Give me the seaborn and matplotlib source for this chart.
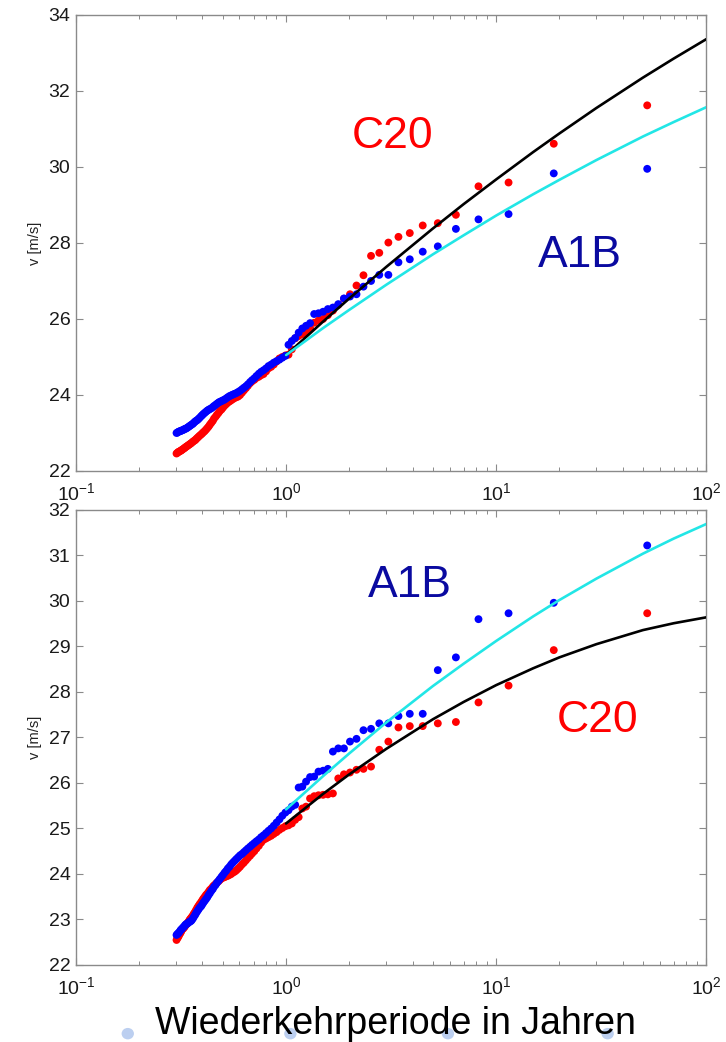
import matplotlib
matplotlib.use("Agg")
import matplotlib.pyplot as plt
import seaborn as sns
import pandas as pd
from matplotlib.ticker import LogLocator, FixedLocator, NullFormatter
from matplotlib.patches import Ellipse

# ---------------- data ----------------
return_period = [52.39, 18.81, 11.46, 8.242, 6.434, 5.277, 4.473, 3.881, 3.428, 3.069,
                 2.778, 2.538, 2.336, 2.164, 2.015, 1.886, 1.772, 1.671, 1.581, 1.500,
                 1.427, 1.361, 1.301, 1.245, 1.195, 1.148, 1.105, 1.065, 1.027, 0.993,
                 0.960, 0.930, 0.901, 0.874, 0.849, 0.825, 0.803, 0.781, 0.761, 0.742,
                 0.723, 0.706, 0.689, 0.674, 0.658, 0.644, 0.630, 0.617, 0.604, 0.592,
                 0.580, 0.569, 0.558, 0.548, 0.538, 0.528, 0.519, 0.510, 0.501, 0.493,
                 0.484, 0.477, 0.469, 0.462, 0.454, 0.448, 0.441, 0.434, 0.428, 0.422,
                 0.416, 0.410, 0.404, 0.399, 0.394, 0.388, 0.383, 0.378, 0.373, 0.369,
                 0.364, 0.360, 0.355, 0.351, 0.347, 0.343, 0.339, 0.335, 0.331, 0.328,
                 0.324, 0.320, 0.317, 0.314, 0.310, 0.307, 0.304, 0.301]

c20_top = [31.62, 30.61, 29.59, 29.49, 28.74, 28.52, 28.46, 28.26, 28.16, 28.01,
           27.74, 27.66, 27.15, 26.88, 26.65, 26.53, 26.37, 26.22, 26.10, 26.00,
           25.96, 25.90, 25.76, 25.66, 25.60, 25.55, 25.49, 25.20, 25.06, 25.04,
           25.00, 24.96, 24.88, 24.80, 24.74, 24.70, 24.62, 24.55, 24.52, 24.48,
           24.45, 24.40, 24.36, 24.31, 24.24, 24.18, 24.12, 24.06, 24.00, 23.96,
           23.94, 23.92, 23.89, 23.86, 23.83, 23.80, 23.76, 23.72, 23.67, 23.62,
           23.58, 23.53, 23.48, 23.43, 23.38, 23.32, 23.27, 23.22, 23.17, 23.13,
           23.09, 23.05, 23.02, 22.99, 22.96, 22.93, 22.90, 22.87, 22.84, 22.81,
           22.79, 22.77, 22.74, 22.72, 22.70, 22.68, 22.66, 22.64, 22.62, 22.60,
           22.58, 22.56, 22.54, 22.53, 22.51, 22.50, 22.48, 22.46]

a1b_top = [29.95, 29.83, 28.76, 28.62, 28.37, 27.91, 27.77, 27.57, 27.49, 27.16,
           27.16, 27.00, 26.85, 26.65, 26.59, 26.54, 26.39, 26.30, 26.26, 26.19,
           26.15, 26.13, 25.89, 25.82, 25.75, 25.64, 25.50, 25.42, 25.32, 25.03,
           24.98, 24.93, 24.89, 24.85, 24.80, 24.76, 24.70, 24.65, 24.61, 24.56,
           24.50, 24.44, 24.39, 24.34, 24.28, 24.23, 24.19, 24.15, 24.11, 24.08,
           24.05, 24.03, 24.01, 23.99, 23.97, 23.94, 23.91, 23.88, 23.86, 23.84,
           23.82, 23.80, 23.77, 23.74, 23.71, 23.68, 23.65, 23.63, 23.61, 23.59,
           23.56, 23.53, 23.50, 23.47, 23.44, 23.40, 23.37, 23.34, 23.32, 23.30,
           23.27, 23.24, 23.22, 23.20, 23.18, 23.16, 23.14, 23.12, 23.11, 23.10,
           23.08, 23.07, 23.06, 23.05, 23.04, 23.03, 23.01, 23.00]

c20_bot = [29.73, 28.92, 28.14, 27.77, 27.34, 27.31, 27.25, 27.25, 27.22, 26.91,
           26.73, 26.36, 26.31, 26.29, 26.23, 26.19, 26.10, 25.77, 25.75, 25.74,
           25.73, 25.71, 25.66, 25.48, 25.44, 25.25, 25.19, 25.11, 25.07, 25.05,
           25.01, 24.97, 24.92, 24.88, 24.84, 24.81, 24.78, 24.75, 24.69, 24.62,
           24.56, 24.50, 24.45, 24.40, 24.35, 24.30, 24.25, 24.21, 24.16, 24.12,
           24.08, 24.05, 24.03, 24.00, 23.98, 23.96, 23.95, 23.93, 23.92, 23.90,
           23.87, 23.84, 23.81, 23.78, 23.75, 23.72, 23.68, 23.65, 23.61, 23.57,
           23.54, 23.50, 23.46, 23.42, 23.38, 23.34, 23.30, 23.26, 23.21, 23.17,
           23.13, 23.09, 23.05, 23.02, 22.99, 22.95, 22.92, 22.89, 22.86, 22.83,
           22.80, 22.78, 22.74, 22.70, 22.66, 22.62, 22.59, 22.55]

a1b_bot = [31.22, 29.96, 29.73, 29.60, 28.76, 28.48, 27.52, 27.52, 27.47, 27.31,
           27.31, 27.19, 27.16, 26.97, 26.91, 26.76, 26.76, 26.69, 26.31, 26.27,
           26.25, 26.14, 26.13, 26.03, 25.92, 25.90, 25.52, 25.48, 25.40, 25.35,
           25.28, 25.20, 25.13, 25.06, 25.00, 24.95, 24.90, 24.85, 24.81, 24.76,
           24.72, 24.68, 24.64, 24.60, 24.56, 24.52, 24.48, 24.44, 24.41, 24.37,
           24.33, 24.29, 24.25, 24.21, 24.16, 24.12, 24.07, 24.03, 23.98, 23.94,
           23.89, 23.85, 23.81, 23.76, 23.72, 23.67, 23.63, 23.58, 23.54, 23.49,
           23.45, 23.41, 23.37, 23.33, 23.29, 23.26, 23.22, 23.18, 23.14, 23.10,
           23.06, 23.02, 22.98, 22.96, 22.95, 22.93, 22.91, 22.90, 22.88, 22.85,
           22.83, 22.80, 22.78, 22.76, 22.72, 22.70, 22.68, 22.66]

fit_period = [1, 1.5, 2, 3, 5, 7, 10, 15, 20, 30, 50, 70, 100]
c20_fit_top = [25.05, 25.93, 26.54, 27.37, 28.38, 29.02, 29.67, 30.39, 30.88, 31.55, 32.35, 32.85, 33.36]
a1b_fit_top = [25.05, 25.76, 26.24, 26.90, 27.70, 28.20, 28.72, 29.28, 29.66, 30.18, 30.80, 31.18, 31.57]
c20_fit_bot = [25.11, 25.76, 26.19, 26.75, 27.40, 27.78, 28.15, 28.52, 28.76, 29.05, 29.36, 29.51, 29.64]
a1b_fit_bot = [25.42, 26.15, 26.65, 27.33, 28.13, 28.62, 29.12, 29.66, 30.02, 30.49, 31.04, 31.37, 31.69]

yticks_top = [22, 24, 26, 28, 30, 32, 34]
yticks_bot = [22, 23, 24, 25, 26, 27, 28, 29, 30, 31, 32]
ylabel = "v [m/s]"
xlabel = "Wiederkehrperiode in Jahren"

# ---------------- style ----------------
sns.set_theme(style="white")
plt.rcParams["font.family"] = ["Liberation Sans", "DejaVu Sans"]
plt.rcParams["mathtext.fontset"] = "custom"
plt.rcParams["mathtext.rm"] = "Liberation Sans"
plt.rcParams["mathtext.it"] = "Liberation Sans:italic"
plt.rcParams["mathtext.bf"] = "Liberation Sans:bold"

RED = "#ff0000"
BLUE = "#0000ff"
CYAN = "#22e6e6"
BLACK = "#000000"
GRAY = "#8a8a8a"

fig = plt.figure(figsize=(7.26, 10.42), dpi=100)
ax_top = fig.add_axes([0.1047, 0.548, 0.868, 0.4377])
ax_bot = fig.add_axes([0.1047, 0.0739, 0.868, 0.4367])


def draw_panel(ax, c20, a1b, c20_fit, a1b_fit, yticks, labels):
    ax.set_xscale("log")
    pts = pd.DataFrame({"T": return_period * 2,
                        "v": list(c20) + list(a1b),
                        "run": ["C20"] * len(c20) + ["A1B"] * len(a1b)})
    sns.scatterplot(data=pts, x="T", y="v", hue="run",
                    palette={"C20": RED, "A1B": BLUE},
                    s=32, linewidth=0, legend=False, ax=ax, zorder=2)
    fits = pd.DataFrame({"T": fit_period * 2,
                         "v": list(c20_fit) + list(a1b_fit),
                         "run": ["C20"] * len(c20_fit) + ["A1B"] * len(a1b_fit)})
    sns.lineplot(data=fits, x="T", y="v", hue="run",
                 palette={"C20": BLACK, "A1B": CYAN},
                 linewidth=1.9, legend=False, ax=ax, sort=False,
                 estimator=None, zorder=3)
    ax.set_xlim(0.1, 100)
    ax.set_ylim(yticks[0], yticks[-1])
    ax.yaxis.set_major_locator(FixedLocator(yticks))
    ax.xaxis.set_major_locator(LogLocator(base=10, numticks=10))
    ax.xaxis.set_minor_locator(LogLocator(base=10, subs=range(2, 10), numticks=10))
    ax.xaxis.set_minor_formatter(NullFormatter())
    ax.tick_params(axis="both", which="both", direction="in",
                   bottom=True, left=True, top=True, right=True,
                   color=GRAY, labelcolor="#1a1a1a", labelsize=14)
    ax.tick_params(which="major", length=5, width=0.8)
    ax.tick_params(which="minor", length=3, width=0.7)
    ax.tick_params(axis="y", pad=4)
    ax.tick_params(axis="x", pad=8)
    for sp in ax.spines.values():
        sp.set_color(GRAY)
        sp.set_linewidth(1.0)
    ax.set_xlabel("")
    ax.set_ylabel(ylabel, fontsize=10.5, color="#222222", labelpad=5)
    for txt, xx, yy, col in labels:
        ax.text(xx, yy, txt, color=col, fontsize=32, ha="center", va="center")


draw_panel(ax_top, c20_top, a1b_top, c20_fit_top, a1b_fit_top, yticks_top,
           [("C20", 3.23, 30.79, RED), ("A1B", 25.1, 27.68, "#0a0aa0")])
draw_panel(ax_bot, c20_bot, a1b_bot, c20_fit_bot, a1b_fit_bot, yticks_bot,
           [("A1B", 3.9, 30.35, "#0a0aa0"), ("C20", 30.3, 27.38, RED)])

fig.text(0.545, 0.017, xlabel, fontsize=27, ha="center", va="center", color="#000000")

# faint slide bullets along the bottom edge
for bx in [0.176, 0.40, 0.617, 0.837]:
    fig.patches.append(Ellipse((bx, 0.008), 0.017, 0.011, transform=fig.transFigure,
                               facecolor="#bccff0", edgecolor="none", zorder=0))

fig.savefig("out.png", dpi=100)
